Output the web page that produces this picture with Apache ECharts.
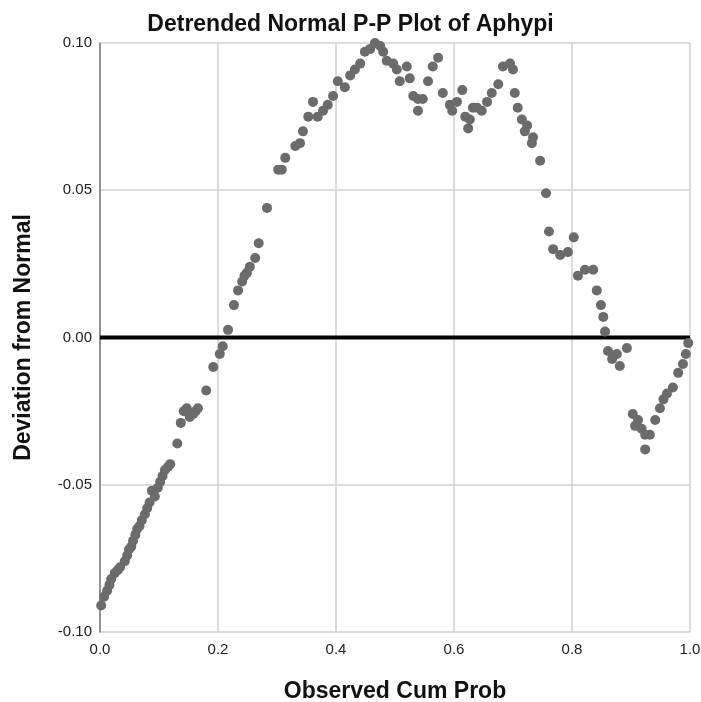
<!DOCTYPE html>
<html>
<head>
<meta charset="utf-8">
<script src="https://cdn.jsdelivr.net/npm/echarts@6/dist/echarts.min.js"></script>
<style>
  html, body { margin: 0; padding: 0; background: #fff; }
  #chart { width: 701px; height: 702px; }
</style>
</head>
<body>
<div id="chart"></div>
<script>
// observed cumulative probability of each case
const cumProb = [
  0.002, 0.007, 0.012, 0.016, 0.019, 0.025, 0.030, 0.034, 0.042, 0.046,
  0.049, 0.053, 0.056, 0.060, 0.063, 0.067, 0.071, 0.076, 0.080, 0.084,
  0.088, 0.093, 0.098, 0.102, 0.106, 0.110, 0.115, 0.119, 0.131, 0.137,
  0.142, 0.147, 0.152, 0.158, 0.162, 0.166, 0.180, 0.192, 0.203, 0.208,
  0.217, 0.227, 0.234, 0.241, 0.245, 0.249, 0.254, 0.263, 0.269, 0.283,
  0.302, 0.308, 0.314, 0.331, 0.339, 0.344, 0.353, 0.361, 0.369, 0.378,
  0.386, 0.395, 0.403, 0.415, 0.424, 0.432, 0.441, 0.449, 0.458, 0.466,
  0.475, 0.480, 0.486, 0.497, 0.503, 0.508, 0.520, 0.525, 0.531, 0.539,
  0.539, 0.547, 0.556, 0.564, 0.573, 0.581, 0.593, 0.597, 0.605, 0.614,
  0.619, 0.624, 0.627, 0.632, 0.639, 0.647, 0.656, 0.664, 0.675, 0.683,
  0.695, 0.700, 0.703, 0.708, 0.715, 0.720, 0.724, 0.732, 0.734, 0.746,
  0.756, 0.761, 0.768, 0.780, 0.793, 0.803, 0.810, 0.822, 0.836, 0.842,
  0.849, 0.853, 0.856, 0.861, 0.868, 0.876, 0.881, 0.893, 0.903, 0.907,
  0.912, 0.918, 0.924, 0.924, 0.932, 0.941, 0.949, 0.955, 0.961, 0.971,
  0.980, 0.988, 0.993, 0.997
]
// deviation from normal for the same cases
const deviation = [
  -0.091, -0.088, -0.086, -0.084, -0.082, -0.080, -0.079, -0.078, -0.076, -0.074,
  -0.072, -0.071, -0.069, -0.067, -0.065, -0.064, -0.062, -0.060, -0.058, -0.056,
  -0.052, -0.054, -0.051, -0.049, -0.047, -0.045, -0.044, -0.043, -0.036, -0.029,
  -0.025, -0.024, -0.027, -0.026, -0.025, -0.024, -0.018, -0.010, -0.0056, -0.003,
  0.0026, 0.011, 0.016, 0.019, 0.021, 0.022, 0.024, 0.027, 0.032, 0.044,
  0.057, 0.057, 0.061, 0.065, 0.066, 0.070, 0.075, 0.080, 0.075, 0.077,
  0.079, 0.082, 0.087, 0.085, 0.089, 0.091, 0.093, 0.097, 0.098, 0.100,
  0.099, 0.097, 0.094, 0.093, 0.091, 0.087, 0.092, 0.088, 0.082, 0.081,
  0.077, 0.081, 0.087, 0.092, 0.095, 0.083, 0.079, 0.077, 0.080, 0.084,
  0.075, 0.071, 0.074, 0.078, 0.078, 0.077, 0.080, 0.083, 0.086, 0.092,
  0.093, 0.091, 0.083, 0.078, 0.074, 0.070, 0.072, 0.066, 0.068, 0.060,
  0.049, 0.036, 0.030, 0.028, 0.029, 0.034, 0.021, 0.023, 0.023, 0.016,
  0.011, 0.007, 0.002, -0.0046, -0.0073, -0.0056, -0.0097, -0.0036, -0.026, -0.030,
  -0.028, -0.031, -0.033, -0.038, -0.033, -0.028, -0.024, -0.021, -0.019, -0.017,
  -0.012, -0.009, -0.0056, -0.0019
]
const xTicks = ['0.0', '0.2', '0.4', '0.6', '0.8', '1.0']
const yTicks = ['-0.10', '-0.05', '0.00', '0.05', '0.10']

const points = cumProb.map((p, i) => [p, deviation[i]])

const chart = echarts.init(document.getElementById('chart'))

const option = {
  animation: false,
  backgroundColor: '#fff',
  textStyle: { fontFamily: 'Liberation Sans, Arial, sans-serif' },
  title: {
    text: 'Detrended Normal P-P Plot of Aphypi',
    left: 'center',
    top: 8,
    textStyle: { fontSize: 23, fontWeight: 'bold', color: '#111' }
  },
  grid: {
    left: 100, right: 11, top: 43, bottom: 70,
    containLabel: false,
    outerBoundsMode: 'none'
  },
  xAxis: {
    type: 'value',
    min: 0,
    max: 1,
    interval: 0.2,
    name: 'Observed Cum Prob',
    nameLocation: 'middle',
    nameGap: 48,
    nameTextStyle: { fontSize: 23, fontWeight: 'bold', color: '#111' },
    axisLine: { show: true, lineStyle: { color: '#7a7a7a', width: 1.5 } },
    axisTick: { show: false },
    splitLine: { show: true, lineStyle: { color: '#d0d0d0', width: 1.5 } },
    axisLabel: {
      fontSize: 15, color: '#222', margin: 10,
      formatter: v => xTicks[Math.round(v / 0.2)]
    }
  },
  yAxis: {
    type: 'value',
    min: -0.1,
    max: 0.1,
    interval: 0.05,
    name: 'Deviation from Normal',
    nameLocation: 'middle',
    nameGap: 65,
    nameTextStyle: { fontSize: 23, fontWeight: 'bold', color: '#111' },
    axisLine: { show: true, lineStyle: { color: '#7a7a7a', width: 1.5 } },
    axisTick: { show: false },
    splitLine: { show: true, lineStyle: { color: '#d0d0d0', width: 1.5 } },
    axisLabel: {
      fontSize: 15, color: '#222', margin: 8,
      formatter: v => yTicks[Math.round((v + 0.1) / 0.05)]
    }
  },
  series: [
    {
      // horizontal reference line at zero deviation
      type: 'line',
      data: [[0, 0], [1, 0]],
      symbol: 'none',
      lineStyle: { color: '#000', width: 4 },
      z: 1
    },
    {
      type: 'scatter',
      data: points,
      symbolSize: 10,
      itemStyle: { color: '#6b6b6b', opacity: 1 },
      z: 2
    }
  ]
}

chart.setOption(option)
</script>
</body>
</html>
